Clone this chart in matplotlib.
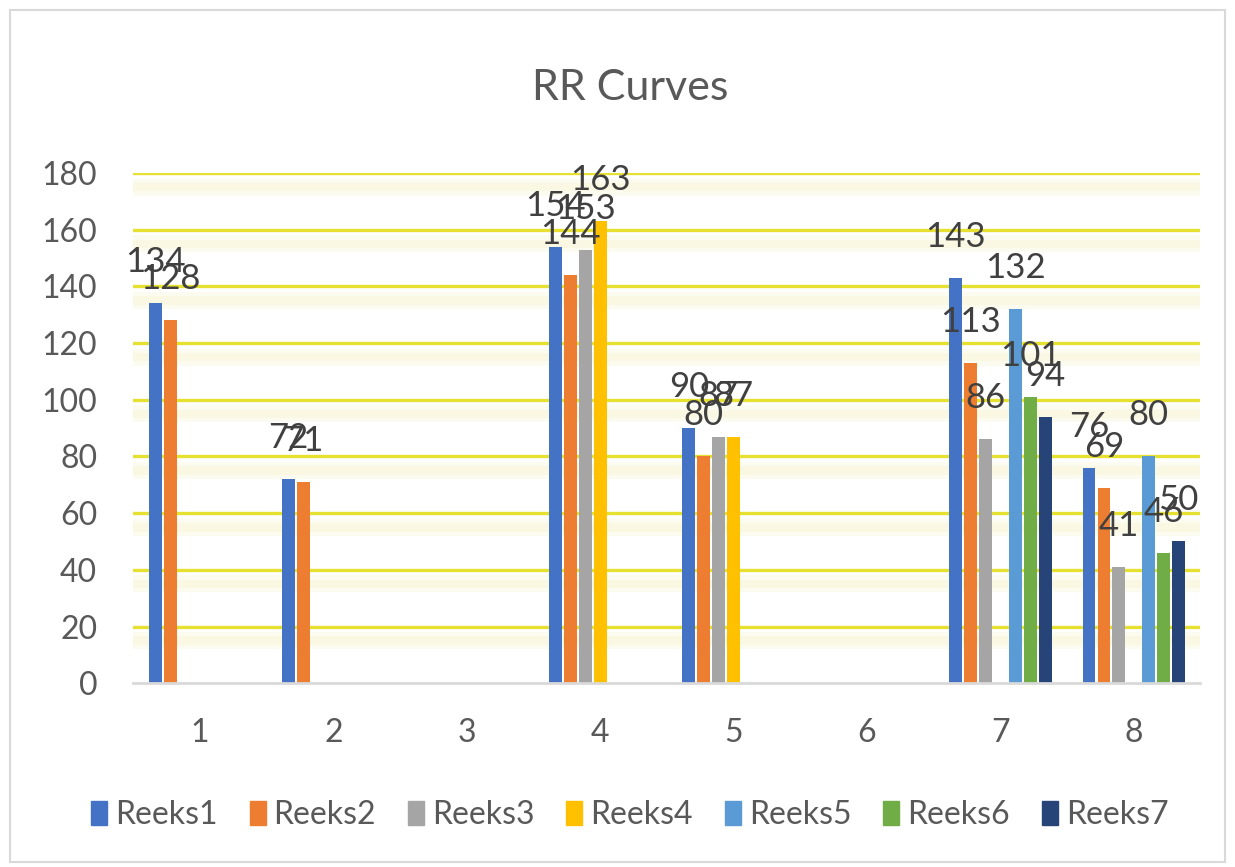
import numpy as np
import matplotlib.pyplot as plt
from matplotlib.patches import Patch, Rectangle

plt.rcParams['font.family'] = ['Lato', 'DejaVu Sans']

categories = ['1', '2', '3', '4', '5', '6', '7', '8']
series_names = ['Reeks1', 'Reeks2', 'Reeks3', 'Reeks4', 'Reeks5', 'Reeks6', 'Reeks7']
colors = ['#4472C4', '#ED7D31', '#A5A5A5', '#FFC000', '#5B9BD5', '#70AD47', '#264478']

nan = np.nan
reeks1 = [134, 72, nan, 154, 90, nan, 143, 76]
reeks2 = [128, 71, nan, 144, 80, nan, 113, 69]
reeks3 = [nan, nan, nan, 153, 87, nan, 86, 41]
reeks4 = [nan, nan, nan, 163, 87, nan, nan, nan]
reeks5 = [nan, nan, nan, nan, nan, nan, 132, 80]
reeks6 = [nan, nan, nan, nan, nan, nan, 101, 46]
reeks7 = [nan, nan, nan, nan, nan, nan, 94, 50]
series = [reeks1, reeks2, reeks3, reeks4, reeks5, reeks6, reeks7]

fig = plt.figure(figsize=(12.35, 8.67), dpi=100)
ax = fig.add_axes([0.108, 0.212, 0.864, 0.5885])

# border around chart area
fig.patches.append(Rectangle((0.008, 0.006), 0.984, 0.982, transform=fig.transFigure,
                             fill=False, edgecolor='#d9d9d9', lw=1.5))

x = np.arange(len(categories))
slot = 0.112
for i, (vals, c) in enumerate(zip(series, colors)):
    pos = x + (i - 3) * slot
    v = np.array(vals, dtype=float)
    ax.bar(pos, np.nan_to_num(v), width=0.095, color=c, zorder=3)
    for p, val in zip(pos, v):
        if not np.isnan(val):
            ax.annotate(f'{int(val)}', (p, val), xytext=(0, 18), textcoords='offset points',
                        ha='center', va='bottom', fontsize=25, color='#404040', zorder=5)

# yellow gridlines with soft glow underneath
yticks = np.arange(0, 181, 20)
for yv in yticks[1:]:
    ax.axhspan(yv - 8, yv - 2, color='#f3eeb0', alpha=0.2, lw=0, zorder=1)
    ax.axhspan(yv - 6.5, yv - 3.5, color='#f3eeb0', alpha=0.2, lw=0, zorder=1)
    ax.axhline(yv, color='#e6e030', lw=2.4, zorder=2)

ax.set_xlim(-0.5, 7.5)
ax.set_ylim(0, 180)
ax.set_xticks(x)
ax.set_xticklabels(categories)
ax.set_yticks(yticks)
ax.tick_params(length=0, labelsize=23, colors='#595959')
ax.tick_params(axis='x', pad=25)
ax.tick_params(axis='y', pad=26)
for s in ['top', 'right', 'left']:
    ax.spines[s].set_visible(False)
ax.spines['bottom'].set_color('#d9d9d9')
ax.spines['bottom'].set_linewidth(2)
ax.spines['bottom'].set_zorder(4)

fig.text(0.51, 0.898, 'RR Curves', ha='center', va='center', fontsize=31, color='#595959')

handles = [Patch(color=c, label=n) for c, n in zip(colors, series_names)]
fig.legend(handles=handles, loc='center', bbox_to_anchor=(0.51, 0.06), ncol=7, frameon=False,
           fontsize=23, handlelength=0.5, handleheight=0.8, handletextpad=0.25,
           columnspacing=1.0, labelcolor='#595959')

fig.savefig('out.png', dpi=100)
